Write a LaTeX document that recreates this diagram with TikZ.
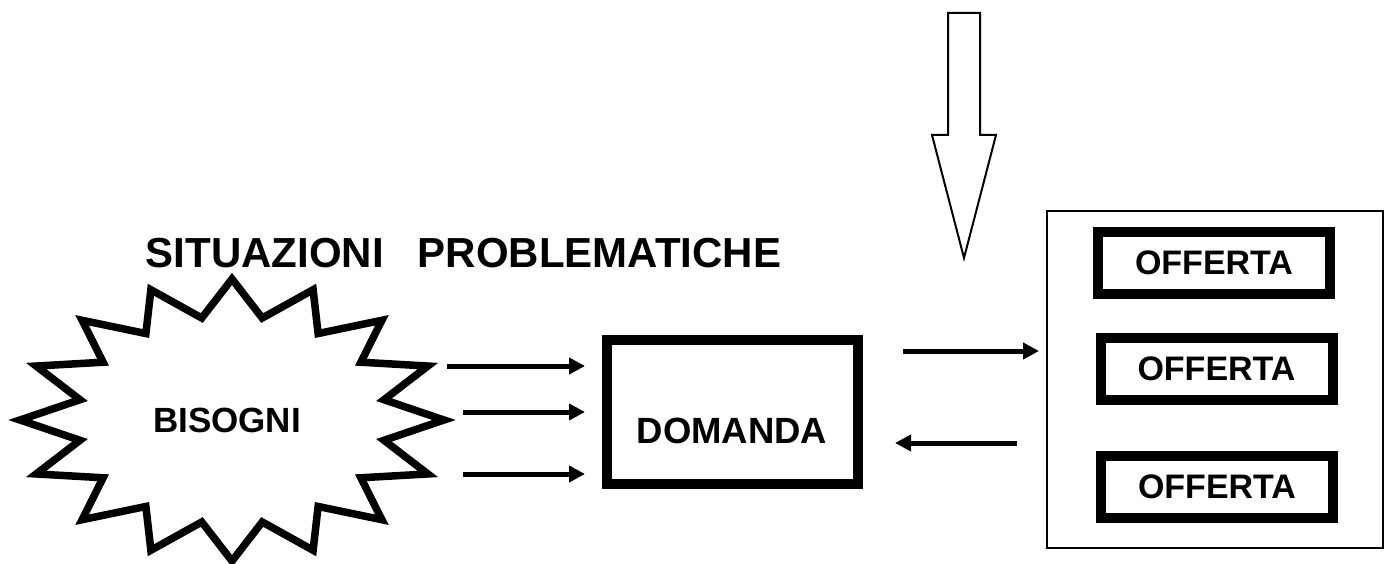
\documentclass[tikz,border=0pt]{standalone}
\usepackage{fontspec}
\setmainfont{Liberation Sans}
\usetikzlibrary{arrows.meta}

\tikzset{
  lbl/.style={font=\bfseries\fontsize{#1}{#1}\selectfont, inner sep=0pt},
  heavybox/.style={draw, line width=10pt, fill=white, inner sep=0pt},
  offerbox/.style={heavybox, minimum width=232pt, minimum height=62pt,
                   font=\bfseries\fontsize{34}{34}\selectfont},
  flow/.style={line width=5pt, -{Triangle[length=16pt,width=16pt]}},
  starline/.style={line width=7.5pt, line join=miter},
  thinline/.style={line width=2pt},
}

\begin{document}
\begin{tikzpicture}[x=1pt, y=-1pt]
  \fill[white] (0,0) rectangle (1391,564);
  \useasboundingbox (0,0) rectangle (1391,564);

  % heading
  \node[lbl=42, anchor=base] (title) at (463.5,267)
       {SITUAZIONI\hspace{34pt}PROBLEMATICHE};

  % sixteen-point burst around the needs
  \begin{scope}[shift={(232,420)}]
    \draw[starline] (212,0)
      \foreach \i [evaluate=\i as \rx using {mod(\i,2)==0 ? 212 : 155},
                   evaluate=\i as \ry using {mod(\i,2)==0 ? 141 : 104}]
        in {1,...,31} { -- ({\rx*cos(\i*11.25)}, {\ry*sin(\i*11.25)}) } -- cycle;
  \end{scope}
  \node[lbl=35, anchor=base] (bisogni) at (227,432.3) {BISOGNI};

  % demand
  \node[heavybox, minimum width=251pt, minimum height=144pt] (domandabox) at (732.5,412) {};
  \node[lbl=36.5, anchor=base] (domanda) at (732,443.3) {DOMANDA};

  % market with the offers
  \node[draw, thinline, minimum width=336pt, minimum height=337pt, inner sep=0pt] (mercato) at (1215,379.5) {};
  \node[offerbox] (off1) at (1214,263) {OFFERTA};
  \node[offerbox] (off2) at (1216.5,369) {OFFERTA};
  \node[offerbox] (off3) at (1217,487) {OFFERTA};

  % big downward arrow
  \draw[thinline, line join=miter] (948,13) -- (980,13) -- (980,135) -- (996,135)
       -- (964,258) -- (932,135) -- (948,135) -- cycle;

  % connector end points
  \coordinate (b1) at (447,366);  \coordinate (d1) at (585,366);
  \coordinate (b2) at (463,412);  \coordinate (d2) at (585,412);
  \coordinate (b3) at (463,474);  \coordinate (d3) at (585,474);
  \coordinate (d4) at (903,351);  \coordinate (m4) at (1039,351);
  \coordinate (m5) at (1017,443); \coordinate (d5) at (895,443);

  \draw[flow] (b1) -- (d1);
  \draw[flow] (b2) -- (d2);
  \draw[flow] (b3) -- (d3);
  \draw[flow] (d4) -- (m4);
  \draw[flow] (m5) -- (d5);
\end{tikzpicture}
\end{document}
